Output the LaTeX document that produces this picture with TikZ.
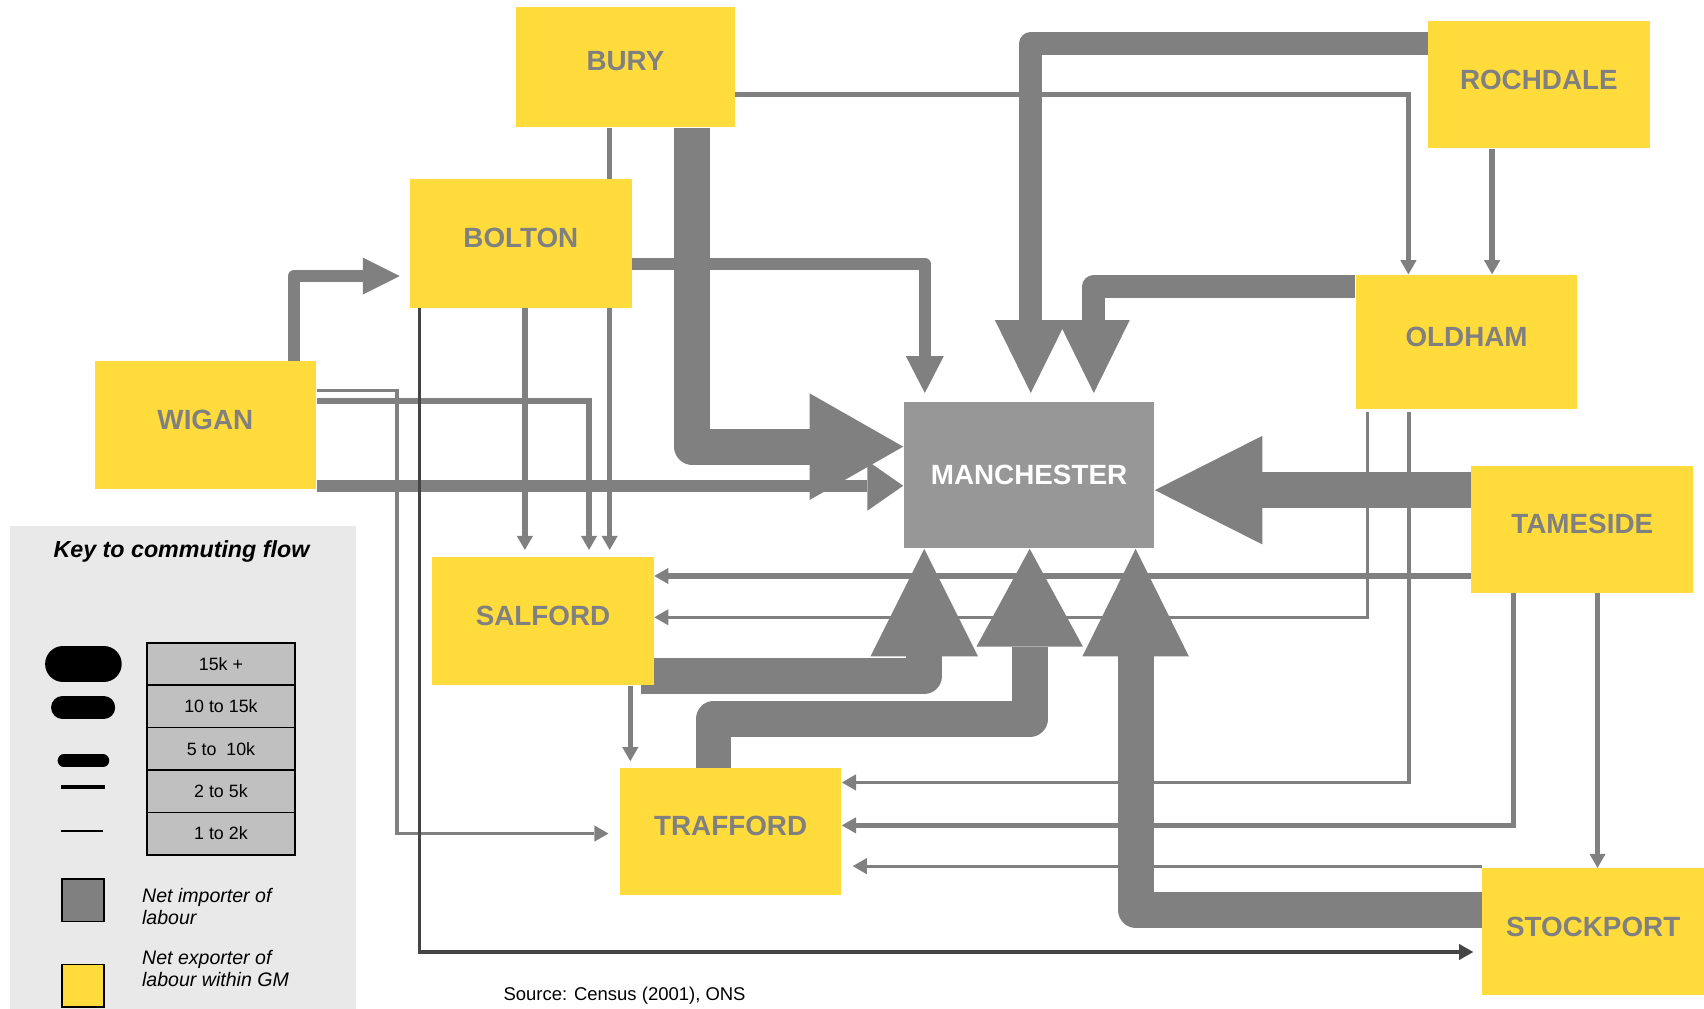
\documentclass[tikz,border=0pt]{standalone}
\usepackage{fontspec}
\setmainfont{Liberation Sans}
\usetikzlibrary{arrows.meta,backgrounds}
\definecolor{gmyellow}{HTML}{FFDC3C}
\definecolor{flowgray}{HTML}{808080}
\definecolor{mangray}{HTML}{979797}
\definecolor{keybg}{HTML}{E9E9E9}
\definecolor{cellgray}{HTML}{C0C0C0}
\definecolor{darkline}{HTML}{454545}

\begin{document}
\begin{tikzpicture}[x=0.5pt,y=-0.5pt,
    place/.style={rectangle, fill=gmyellow, text=flowgray, minimum width=102pt, minimum height=58.5pt,
      inner sep=0pt, text depth=5pt, font=\fontsize{12.8}{14}\selectfont\bfseries},
    hub/.style={place, fill=mangray, text=white, text depth=0pt, minimum width=115.4pt, minimum height=67.5pt},
    flowA/.style={color=flowgray, line width=1.5pt, -{Triangle[length=6.5pt,width=7.5pt,line width=0pt]}},
    flowB/.style={flowA, line width=2.5pt},
    flowC/.style={color=flowgray, line width=5.5pt, line join=round},
    flowD/.style={color=flowgray, line width=10.5pt, line join=round},
    flowE/.style={color=flowgray, line width=16.5pt, line join=round},
    keycell/.style={rectangle, draw=black, line width=0.75pt, fill=cellgray, minimum width=68.2pt,
      minimum height=19.5pt, inner sep=0pt, font=\fontsize{8.2}{9}\selectfont},
    keysq/.style={rectangle, draw=black, line width=0.75pt, minimum size=19.5pt, inner sep=0pt},
    keytext/.style={anchor=west, align=left, inner sep=0pt, font=\fontsize{9}{10}\selectfont\itshape}]
  \useasboundingbox (0,0) rectangle (1568,928);

  \fill[keybg] (9,484) rectangle (327.6,928);
  \node[font=\fontsize{10.7}{12}\selectfont\bfseries\itshape] (keytitle) at (167,507) {Key to commuting flow};
  \foreach \lab [count=\i from 0] in {15k +, 10 to 15k, 5 to~ 10k, 2 to 5k, 1 to 2k}
    \node[keycell] (cell\i) at (203.3,611+39*\i) {\lab};
  \draw[line width=16.5pt, line cap=round] (58,611) -- (95.5,611);
  \draw[line width=10.5pt, line cap=round] (57.5,651) -- (95.5,651);
  \draw[line width=5.75pt, line cap=round] (58.8,700) -- (94.8,700);
  \draw[line width=2pt] (56,724) -- (96.6,724);
  \draw[line width=1pt] (56,765) -- (95,765);
  \node[keysq, fill=flowgray] (importer) at (76.4,828.3) {};
  \node[keysq, fill=gmyellow] (exporter) at (76.4,907) {};
  \node[keytext] (importtext) at (130.4,834) {Net importer of\\labour};
  \node[keytext] (exporttext) at (130.4,891) {Net exporter of\\labour within GM};
  \node[anchor=base west, inner sep=0pt, font=\fontsize{8.5}{10}\selectfont] (source) at (463,921) {Source: Census (2001), ONS};

  \node[place, minimum width=100.5pt, minimum height=55.5pt] (bury) at (575.5,61.5) {BURY};
  \node[place] (rochdale) at (1416,78) {ROCHDALE};
  \node[place, minimum height=59pt] (bolton) at (479.3,224) {BOLTON};
  \node[place, minimum height=62pt] (oldham) at (1349.5,314.8) {OLDHAM};
  \node[place] (wigan) at (189,391) {WIGAN};
  \node[hub] (manch) at (946.9,437.1) {MANCHESTER};
  \node[place] (tameside) at (1456,487) {TAMESIDE};
  \node[place, minimum height=59pt] (salford) at (499.7,571.4) {SALFORD};
  \node[place] (trafford) at (672.3,765.3) {TRAFFORD};
  \node[place] (stockport) at (1466,857.5) {STOCKPORT};

  \begin{scope}[on background layer]
    \draw[flowE, -{Triangle[length=43pt,width=49pt,line width=0pt]}] (bury.south -| 637,0) |- (manch.west |- 0,411);
    \draw[flowE, -{Triangle[length=49.5pt,width=50pt,line width=0pt]}] (tameside.west |- 0,451) -- (manch.east |- 0,451);
    \draw[flowE, -{Triangle[length=49.5pt,width=49.5pt,line width=0pt]}, shorten <=-6pt] (salford.east |- 0,622) -| (manch.south -| 850.5,0);
    \draw[flowE, -{Triangle[length=45pt,width=49pt,line width=0pt]}] (trafford.north -| 656.5,0) -- ++(0,-44.6) -| (manch.south -| 947.5,0);
    \draw[flowE, -{Triangle[length=49.5pt,width=49pt,line width=0pt]}] (stockport.west |- 0,837) -| (manch.south -| 1045,0);
    \draw[flowD, -{Triangle[length=33.5pt,width=33pt,line width=0pt]}, shorten >=3.8pt] (rochdale.west |- 0,40) -| (manch.north -| 948.5,0);
    \draw[flowD, -{Triangle[length=33.5pt,width=33pt,line width=0pt]}, shorten >=3.8pt] (oldham.west |- 0,263.5) -| (manch.north -| 1006.5,0);
    \draw[flowC, -{Triangle[length=17pt,width=17.5pt,line width=0pt]}, shorten >=3.8pt] (bolton.east |- 0,243) -| (manch.north -| 851,0);
    \draw[flowC, -{Triangle[length=16.5pt,width=23pt,line width=0pt]}] (wigan.east |- 0,447) -- (manch.west |- 0,447);
    \draw[flowC, -{Triangle[length=17pt,width=17pt,line width=0pt]}, shorten >=4.5pt] (wigan.north -| 270.5,0) |- (bolton.west |- 0,254);

    \draw[flowB] (bury.east |- 0,87) -| (oldham.north -| 1296,0);
    \draw[flowB] (rochdale.south -| 1373,0) -- (oldham.north -| 1373,0);
    \draw[flowB, shorten >=3pt] (bury.south -| 561,0) -- (salford.north -| 561,0);
    \draw[flowB, shorten >=3pt] (bolton.south -| 483,0) -- (salford.north -| 483,0);
    \draw[flowB, shorten >=3pt] (wigan.east |- 0,369) -| (salford.north -| 542,0);
    \draw[flowA, shorten >=5pt] (wigan.east |- 0,359.5) -- ++(74,0) |- (trafford.west |- 0,767);
    \draw[flowA, color=darkline, shorten >=4pt] (bolton.south -| 386,0) |- (stockport.west |- 0,876);
    \draw[flowB, shorten >=3pt] (salford.south -| 580,0) -- (trafford.north -| 580,0);
    \draw[flowB] (tameside.west |- 0,530) -- (salford.east |- 0,530);
    \draw[flowA, shorten <=1pt] (oldham.south -| 1258,0) |- (salford.east |- 0,568);
    \draw[flowA, shorten <=1pt] (oldham.south -| 1296.5,0) |- (trafford.east |- 0,720);
    \draw[flowB] (tameside.south -| 1392.5,0) |- (trafford.east |- 0,759.5);
    \draw[flowA, shorten >=5pt] (stockport.west |- 0,797) -- (trafford.east |- 0,797);
    \draw[flowB] (tameside.south -| 1470,0) -- (stockport.north -| 1470,0);
  \end{scope}
\end{tikzpicture}
\end{document}
